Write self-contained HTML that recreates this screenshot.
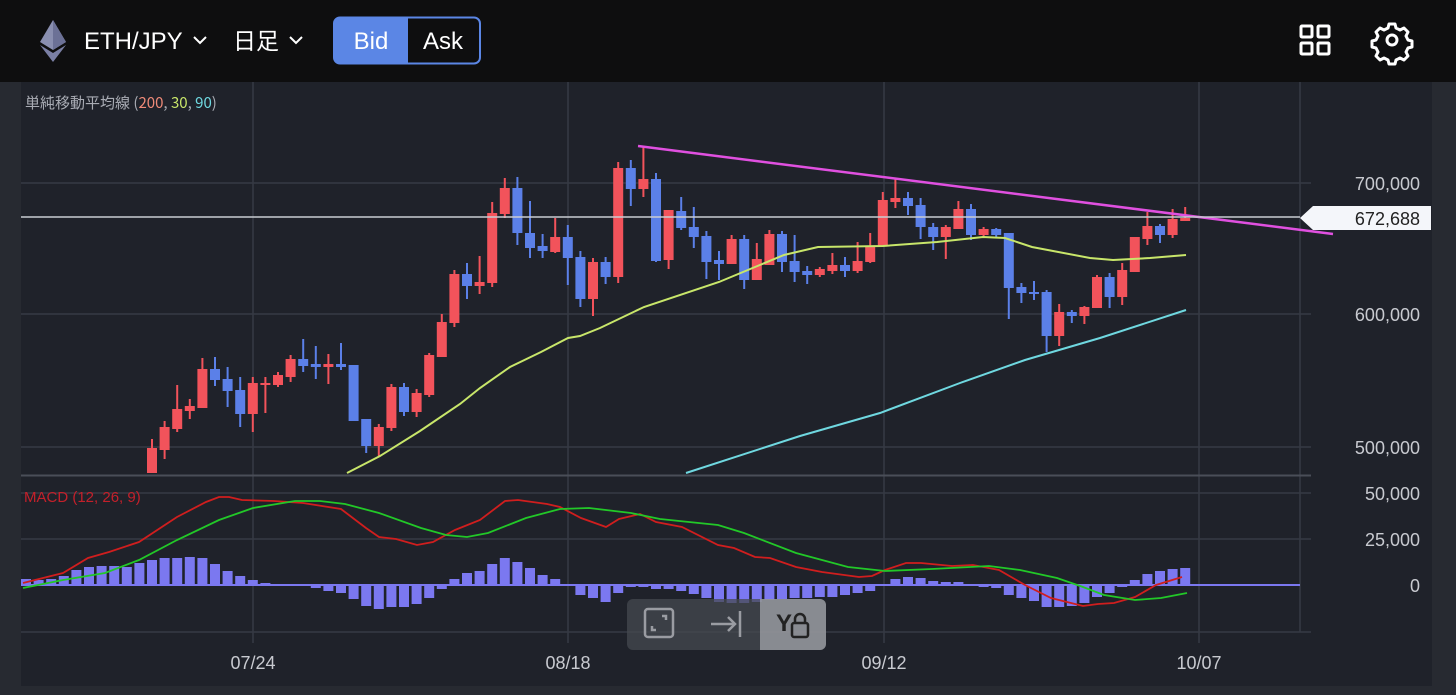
<!DOCTYPE html>
<html><head><meta charset="utf-8"><style>
html,body{margin:0;padding:0;width:1456px;height:695px;overflow:hidden;background:#272a31;font-family:"Liberation Sans","Noto Sans CJK JP",sans-serif}
</style></head><body>
<svg id="s" width="1456" height="695" xmlns="http://www.w3.org/2000/svg" style="position:absolute;left:0;top:0">
<rect x="0" y="0" width="1456" height="695" fill="#272a31"/>
<rect x="21" y="82" width="1411" height="604" fill="#1f222a"/>
<rect x="0" y="0" width="1456" height="82" fill="#0e0e0f"/>
<!-- top bar -->
<polygon points="53,20 40,42 53,50 66,42" fill="#8a8fb0"/>
<polygon points="53,20 53,50 66,42" fill="#6c7196"/>
<polygon points="40,45 53,62 66,45 53,53" fill="#7a7fa4"/>
<text x="84" y="49" fill="#fff" font-size="24">ETH/JPY</text>
<polyline points="194,37 200,43 206,37" fill="none" stroke="#fff" stroke-width="2"/>
<text x="233" y="49" fill="#fff" font-size="23" font-family="Noto Sans CJK JP,sans-serif">日足</text>
<polyline points="290,37 296,43 302,37" fill="none" stroke="#fff" stroke-width="2"/>
<rect x="334" y="17.5" width="146" height="46" rx="6" fill="#0e0e0f" stroke="#5b86e5" stroke-width="2"/>
<path d="M340,17.5 H408 V63.5 H340 A6,6 0 0 1 334,57.5 V23.5 A6,6 0 0 1 340,17.5Z" fill="#5b86e5"/>
<text x="371" y="49" fill="#fff" font-size="24" text-anchor="middle">Bid</text>
<text x="443" y="49" fill="#fff" font-size="24" text-anchor="middle">Ask</text>
<g fill="none" stroke="#fff" stroke-width="3">
<rect x="1301" y="26" width="11" height="11" rx="1"/><rect x="1318" y="26" width="11" height="11" rx="1"/>
<rect x="1301" y="43" width="11" height="11" rx="1"/><rect x="1318" y="43" width="11" height="11" rx="1"/>
<circle cx="1392" cy="40" r="5"/>
<path d="M1389,24 h6 l1,4 l4,2 l4,-2 l4,4 l-2,4 l2,4 l4,1 v6 l-4,1 l-2,4 l2,4 l-4,4 l-4,-2 l-4,2 l-1,4 h-6 l-1,-4 l-4,-2 l-4,2 l-4,-4 l2,-4 l-2,-4 l-4,-1 v-6 l4,-1 l2,-4 l-2,-4 l4,-4 l4,2 l4,-2z" stroke-linejoin="round"/>
</g>
<!-- grid -->
<g stroke="#363a44" stroke-width="1.5">
<line x1="21" y1="183" x2="1311" y2="183"/><line x1="21" y1="314" x2="1311" y2="314"/><line x1="21" y1="447" x2="1311" y2="447"/>
<line x1="21" y1="493" x2="1311" y2="493"/><line x1="21" y1="539" x2="1311" y2="539"/>
<line x1="21" y1="632" x2="1311" y2="632"/>
<line x1="253" y1="82" x2="253" y2="643"/><line x1="568" y1="82" x2="568" y2="643"/><line x1="884" y1="82" x2="884" y2="643"/><line x1="1199" y1="82" x2="1199" y2="643"/>
<line x1="1300" y1="82" x2="1300" y2="632"/>
</g>
<line x1="21" y1="475.5" x2="1311" y2="475.5" stroke="#4a4e58" stroke-width="2"/>
<g id="cand"></g>
<!-- MAs -->
<polyline fill="none" stroke="#c8e66a" stroke-width="2" points="347,473 380,456 420,431 460,404 480,388 510,367 541,352 568,338 580,336 600,328 644,307 719,282 784,255 818,247 883,246 937,242 983,237 1005,238 1032,247 1090,258 1113,260 1150,258 1186,255"/>
<polyline fill="none" stroke="#6fd8e0" stroke-width="2" points="686,473 800,436 880,413 960,383 1025,360 1100,338 1186,310"/>
<line x1="638" y1="146" x2="1333" y2="234" stroke="#e050e0" stroke-width="2.5"/>
<line x1="21" y1="217" x2="1300" y2="217" stroke="#c9ccd2" stroke-width="1.5"/>
<polygon points="1300,218 1313,206 1431,206 1431,230 1313,230" fill="#f4f6fa"/>
<text x="1420" y="225" fill="#222" font-size="18" text-anchor="end">672,688</text>
<g fill="#c8cad0" font-size="18" text-anchor="end">
<text x="1420" y="190">700,000</text><text x="1420" y="321">600,000</text><text x="1420" y="454">500,000</text>
<text x="1420" y="500">50,000</text><text x="1420" y="546">25,000</text><text x="1420" y="592">0</text>
</g>
<g fill="#c8cad0" font-size="18" text-anchor="middle">
<text x="253" y="669">07/24</text><text x="568" y="669">08/18</text><text x="884" y="669">09/12</text><text x="1199" y="669">10/07</text>
</g>
<text x="25" y="108" fill="#a9acb4" font-size="15" font-family="Noto Sans CJK JP,sans-serif">単純移動平均線 (<tspan fill="#ef8a78">200</tspan>, <tspan fill="#c8e66a">30</tspan>, <tspan fill="#6fd8e0">90</tspan>)</text>
<text x="24" y="502" fill="#c4202a" font-size="15">MACD (12, 26, 9)</text>
<line x1="21" y1="585" x2="1300" y2="585" stroke="#7b78f0" stroke-width="2"/>
<g id="hist"></g>
<polyline fill="none" stroke="#d01e1e" stroke-width="1.8" points="23,583 63,573 88,558 109,552 139,542 177,517 206,502 219,497 229,497 242,500 274,501 303,503 341,509 366,528 379,537 396,539 417,545 433,542 455,530 480,520 505,501 518,500 547,504 560,507 581,518 606,527 619,519 640,514 656,522 682,527 718,545 734,548 755,557 770,558 796,567 822,572 859,577 872,576 885,570 906,563 921,563 952,566 973,565 999,570 1025,585 1051,598 1083,606 1098,604 1114,603 1135,597 1156,585 1182,577"/>
<polyline fill="none" stroke="#22c828" stroke-width="1.8" points="23,588 63,580 105,573 139,560 177,540 219,520 253,508 295,501 320,501 345,504 379,513 421,528 446,535 467,537 488,533 526,518 560,509 589,508 631,513 660,519 718,525 744,533 796,553 848,567 885,571 932,569 989,566 1020,570 1057,578 1083,587 1104,595 1135,600 1161,598 1187,593"/>
<!-- toolbar -->
<rect x="627" y="599" width="199" height="51" rx="6" fill="rgba(70,73,80,0.75)"/>
<path d="M760,599 H820 A6,6 0 0 1 826,605 V644 A6,6 0 0 1 820,650 H760Z" fill="rgba(170,172,176,0.7)"/>
<g fill="none" stroke="#9a9ca2" stroke-width="2.5">
<rect x="645" y="609" width="28" height="28" rx="3"/>
<polyline points="662,616 666,616 666,620"/><polyline points="652,626 652,630 656,630"/>
<line x1="711" y1="624" x2="735" y2="624"/><polyline points="728,617 735,624 728,631"/><line x1="740" y1="611" x2="740" y2="637"/>
</g>
<text x="776" y="631" fill="#222" font-size="24" font-weight="bold">Y</text>
<rect x="792" y="623" width="16" height="14" rx="2" fill="none" stroke="#222" stroke-width="2.5"/>
<path d="M795,623 v-4 a5,5 0 0 1 10,0 v4" fill="none" stroke="#222" stroke-width="2.5"/>
</svg>
<script>
var C=[["R",448,473,439,473],["R",427,450,421,459],["R",409,429,385,432],["R",406,411,399,419],["R",369,408,358,408],["B",369,380,357,386],["B",379,391,367,407],["B",390,414,377,427],["R",383,414,377,432],["R",383,385,377,413],["R",375,385,372,387],["R",359,377,355,382],["B",359,366,339,372],["B",364,367,346,379],["R",364,367,354,384],["B",364,367,343,370],["B",365,421,365,421],["B",419,446,419,453],["R",427,446,424,456],["R",387,428,384,431],["B",387,412,383,416],["R",393,412,389,417],["R",355,395,353,397],["R",322,357,314,357],["R",274,323,270,327],["B",274,286,263,299],["R",282,286,256,294],["R",213,283,202,287],["R",188,214,178,218],["B",188,233,177,245],["B",233,248,201,258],["B",246,251,234,258],["R",237,252,218,253],["B",237,258,225,285],["B",257,299,251,307],["R",262,299,258,316],["B",262,277,257,284],["R",168,277,162,283],["B",168,189,160,206],["R",179,189,147,197],["B",179,261,173,262],["R",210,260,210,269],["B",211,228,197,230],["B",227,237,207,248],["B",236,262,231,279],["B",260,264,251,280],["R",239,264,235,264],["B",239,280,235,289],["R",259,280,243,280],["R",234,265,230,265],["B",234,262,231,272],["B",261,272,235,282],["B",271,275,266,284],["R",269,275,267,277],["R",265,271,253,274],["B",265,271,257,277],["R",261,271,242,273],["R",246,262,233,263],["R",200,246,192,246],["R",198,202,179,208],["B",198,206,192,215],["B",205,227,198,239],["B",227,237,223,250],["R",227,237,225,259],["R",209,229,201,229],["B",209,235,204,240],["R",229,235,227,237],["B",229,235,228,238],["B",233,288,233,319],["B",287,293,283,303],["B",292,294,281,300],["B",292,336,290,352],["R",312,336,304,346],["B",312,316,310,323],["R",307,316,306,324],["R",277,308,275,308],["B",277,297,273,308],["R",270,297,263,305],["R",237,272,237,272],["R",226,239,212,245],["B",226,235,224,243],["R",219,235,209,238],["R",218,221,207,221]];
var H=[579,580,579,576,570,567,566,566,567,563,560,558,558,557,558,564,571,576,580,583,585,585,586,588,591,593,599,606,609,607,607,604,598,589,579,573,571,564,558,562,568,575,579,585,595,598,602,593,587,587,589,589,591,594,598,602,603,603,602,600,599,598,598,597,597,595,593,591,585,579,577,578,581,582,582,585,587,588,595,598,601,607,607,606,603,597,593,587,580,574,571,569,568];
var ns="http://www.w3.org/2000/svg",g=document.getElementById("cand"),h=document.getElementById("hist");
function el(p,t,a){var e=document.createElementNS(ns,t);for(var k in a)e.setAttribute(k,a[k]);p.appendChild(e);}
C.forEach(function(c,i){var x=152+i*12.6,col=c[0]=="R"?"#f2535b":"#5b80e8";
el(g,"line",{x1:x,x2:x,y1:c[3],y2:c[4],stroke:col,"stroke-width":2});
var t=c[1],b=c[2];if(b-t<2){t-=1;b+=1;}
el(g,"rect",{x:x-5,y:t,width:10,height:b-t,fill:col});});
H.forEach(function(v,j){var x=152+(j-10)*12.6;var y=Math.min(v,585),hh=Math.abs(v-585);if(hh<1)return;
el(h,"rect",{x:x-5,y:y,width:10,height:hh,fill:"#7b78f0"});});
</script>
</body></html>
